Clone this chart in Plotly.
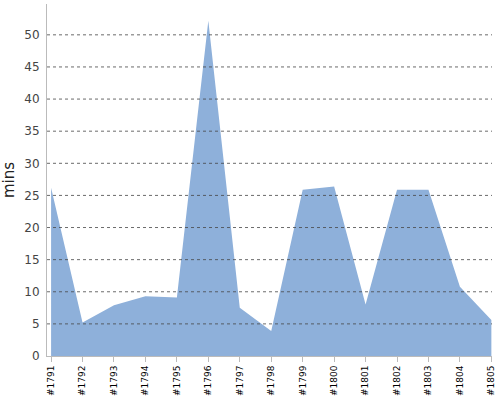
import plotly.graph_objects as go

# chart data
episodes = ["#1791", "#1792", "#1793", "#1794", "#1795", "#1796", "#1797", "#1798",
            "#1799", "#1800", "#1801", "#1802", "#1803", "#1804", "#1805"]
minutes = [26.2, 5.2, 7.9, 9.3, 9.1, 52.2, 7.5, 3.9, 25.9, 26.4, 8.0, 25.9, 25.9, 10.8, 5.6]
y_ticks = [0, 5, 10, 15, 20, 25, 30, 35, 40, 45, 50]

fig = go.Figure()

fig.add_trace(
    go.Scatter(x=episodes, y=minutes,
               mode="lines",
               fill="tozeroy",
               fillcolor="#8eb0da",
               line=dict(width=0, color="#8eb0da"),
               hoverinfo="x+y",
               showlegend=False))

# dotted grid drawn over the area, like the original
for v in y_ticks[1:]:
    fig.add_shape(type="line", xref="paper", yref="y",
                  x0=0, x1=1, y0=v, y1=v, layer="above",
                  line=dict(color="rgba(70,70,70,0.8)", width=1, dash="dot"))

fig.update_layout(
    width=500, height=400,
    margin=dict(l=47, r=8, t=4, b=44),
    paper_bgcolor="white", plot_bgcolor="white",
    font=dict(family="DejaVu Sans"),
    xaxis=dict(type="category", range=[-0.13, 14.02], automargin=False,
               tickangle=-90, tickfont=dict(size=9, color="black"),
               showgrid=False, zeroline=False,
               showline=True, linecolor="#bbbbbb", linewidth=1,
               ticks="outside", ticklen=5, tickcolor="#bbbbbb"),
    yaxis=dict(range=[0, 54.8], tickvals=y_ticks, automargin=False,
               tickfont=dict(size=12, color="#444444"),
               title=dict(text="mins", font=dict(size=15, color="#222222"), standoff=8),
               showgrid=False, zeroline=False,
               showline=True, linecolor="#bbbbbb", linewidth=1,
               ticks="", ticklabelstandoff=4),
)

# the page's default body margin would push the 500x400 figure out of the window
fig.write_html("out.html", config={"displayModeBar": False},
               post_script="document.body.style.margin = '0';")
